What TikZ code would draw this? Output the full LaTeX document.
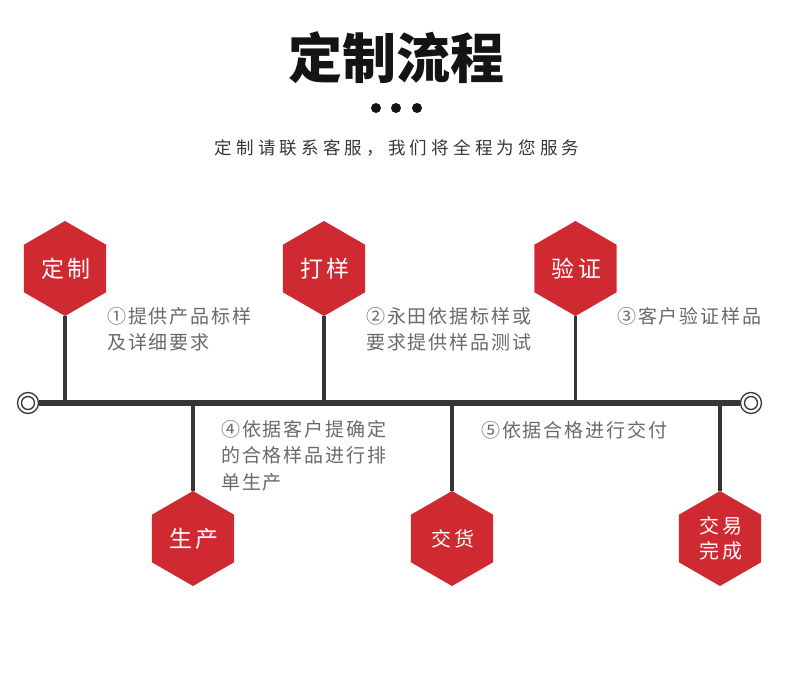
\documentclass[tikz,border=0pt]{standalone}
\usepackage{fontspec}
\setmainfont{Noto Sans CJK SC}
\newfontfamily\descfont[LetterSpace=10]{Noto Sans CJK SC}
\newfontfamily\subfont[LetterSpace=24]{Noto Sans CJK SC}
\newfontfamily\hexfont[LetterSpace=16]{Noto Sans CJK SC}
\usetikzlibrary{shapes.geometric}
\definecolor{hexred}{RGB}{207,41,50}
\definecolor{linegray}{RGB}{54,54,54}
\definecolor{descgray}{RGB}{105,105,105}
\definecolor{titleblack}{RGB}{20,20,20}
\begin{document}
\begin{tikzpicture}[x=1pt,y=-1pt,
  hexbox/.style={regular polygon, regular polygon sides=6, shape border rotate=30,
    minimum size=95pt, inner sep=0pt, fill=hexred, text=white, align=center},
  hexbig/.style={hexbox, font=\hexfont\fontsize{23}{27}\selectfont},
  hexsmall/.style={hexbox, font=\hexfont\fontsize{20}{25}\selectfont},
  stem/.style={draw=linegray, line width=3.2pt},
  mainline/.style={draw=linegray, line width=6pt},
  endring/.style={circle, draw=linegray, line width=1.3pt, fill=white, minimum size=21pt, inner sep=0pt},
  innerring/.style={circle, draw=linegray, line width=1.3pt, minimum size=13pt, inner sep=0pt},
  desc/.style={anchor=base west, inner sep=0pt, align=left, text=descgray,
    font=\descfont\fontsize{19}{26.5}\selectfont},
  dot/.style={circle, fill=titleblack, minimum size=10pt, inner sep=0pt}
]
\useasboundingbox (0,0) rectangle (790,696);

% title
\node[anchor=base, inner sep=0pt, text=titleblack, font=\bfseries\fontsize{54}{60}\selectfont] (title) at (396,78) {定制流程};
\node[dot] (d1) at (376,108) {};
\node[dot] (d2) at (396,108) {};
\node[dot] (d3) at (417,108) {};
\node[anchor=base, inner sep=0pt, text=linegray, font=\subfont\fontsize{17.5}{20}\selectfont] (sub) at (397,154.5) {定制请联系客服，我们将全程为您服务};

% end rings and main line
\node[endring] (cl) at (28,403) {};
\node[endring] (cr) at (751,403) {};
\node[innerring] (cli) at (cl) {};
\node[innerring] (cri) at (cr) {};
\draw[mainline] (cl) -- (cr);

% hexagons
\node[hexbig] (h1) at (65,268.5) {\hspace{2pt}定制};
\node[hexbig] (h2) at (324,268.5) {\hspace{2pt}打样};
\node[hexbig] (h3) at (575.5,268.5) {\hspace{2pt}验证};
\node[hexbig] (h4) at (193,538.5) {\hspace{2pt}生产};
\node[hexsmall] (h5) at (452,538.5) {\hspace{2pt}交货};
\node[hexsmall] (h6) at (720,538.5) {\hspace{2pt}交易\\\hspace{2pt}完成};

% stems
\draw[stem] (h1.south) -- (h1.south |- cl);
\draw[stem] (h2.south) -- (h2.south |- cl);
\draw[stem] (h3.south) -- (h3.south |- cl);
\draw[stem] (h4.north |- cl) -- (h4.north);
\draw[stem] (h5.north |- cl) -- (h5.north);
\draw[stem] (h6.north |- cl) -- (h6.north);

% descriptions (base anchor = baseline of the last line)
\node[desc] (t1) at (107,349.5) {①提供产品标样\\及详细要求};
\node[desc] (t2) at (366,349.5) {②永田依据标样或\\要求提供样品测试};
\node[desc] (t3) at (617,323) {③客户验证样品};
\node[desc] (t4) at (221,489) {④依据客户提确定\\的合格样品进行排\\单生产};
\node[desc] (t5) at (481,437) {⑤依据合格进行交付};
\end{tikzpicture}
\end{document}
